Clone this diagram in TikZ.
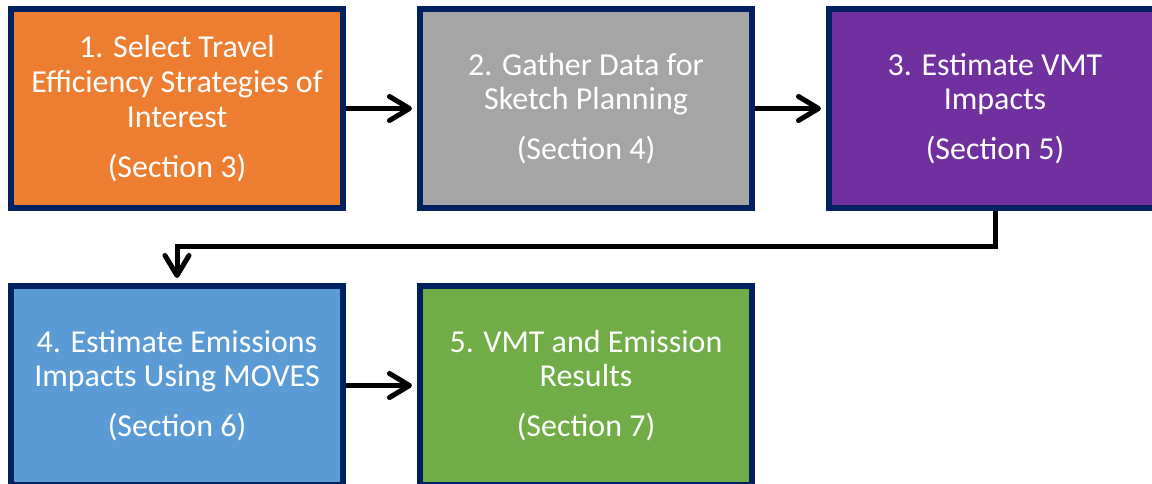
\documentclass[tikz,border=0pt]{standalone}
\usepackage{fontspec}
\setmainfont{Carlito}
\usetikzlibrary{arrows.meta}
\definecolor{cborder}{HTML}{002060}
\definecolor{corange}{HTML}{ED7D31}
\definecolor{cgray}{HTML}{A5A5A5}
\definecolor{cpurple}{HTML}{7030A0}
\definecolor{cblue}{HTML}{5B9BD5}
\definecolor{cgreen}{HTML}{70AD47}
\tikzset{
  stepbox/.style={draw=cborder, line width=0.12cm, minimum width=6.64cm, minimum height=3.98cm,
    text=white, align=center, inner sep=0pt,
    font=\fontsize{18.2pt}{19.8pt}\selectfont},
  flow/.style={line width=0.1cm, shorten >=0.1cm,
    -{Straight Barb[length=0.4cm, width=0.48cm, line cap=round, line join=round]}}
}
\begin{document}
\begin{tikzpicture}
\useasboundingbox (0,0) rectangle (23.04,-9.66);
\clip (0,0) rectangle (23.04,-9.66);
\node[stepbox, fill=corange] (s1) at (3.54,-2.17) {1. Select Travel\\Efficiency Strategies of\\Interest\\[0.3cm](Section 3)};
\node[stepbox, fill=cgray] (s2) at (11.72,-2.17) {2. Gather Data for\\Sketch Planning\\[0.3cm](Section 4)};
\node[stepbox, fill=cpurple] (s3) at (19.9,-2.17) {3. Estimate VMT\\Impacts\\[0.3cm](Section 5)};
\node[stepbox, fill=cblue] (s4) at (3.54,-7.71) {4. Estimate Emissions\\Impacts Using MOVES\\[0.3cm](Section 6)};
\node[stepbox, fill=cgreen] (s5) at (11.72,-7.71) {5. VMT and Emission\\Results\\[0.3cm](Section 7)};
\coordinate (bend) at (19.9,-4.92);
\draw[flow] (s1) -- (s2);
\draw[flow] (s2) -- (s3);
\draw[flow, line join=miter] (s3.south) -- (bend) -| (s4.north);
\draw[flow] (s4) -- (s5);
\end{tikzpicture}
\end{document}
